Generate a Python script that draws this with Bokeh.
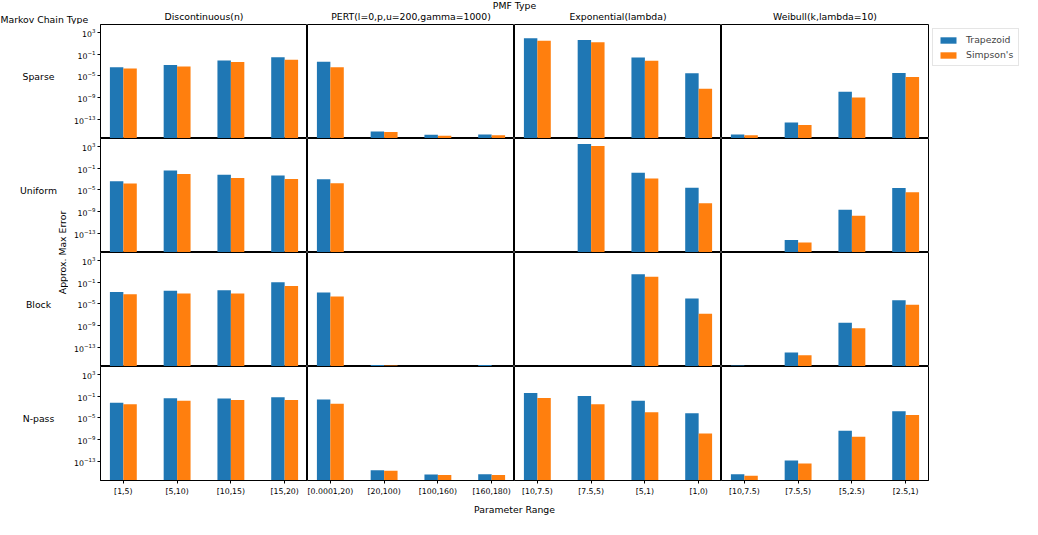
import numpy as np
from bokeh.plotting import figure
from bokeh.layouts import gridplot, column, row
from bokeh.models import Range1d, FixedTicker, Label, Legend, LegendItem, ColumnDataSource
from bokeh.transform import dodge
from bokeh.embed import file_html
from bokeh.resources import INLINE

nan = float("nan")

chain_types = ["Sparse", "Uniform", "Block", "N-pass"]
pmf_types = ["Discontinuous(n)", "PERT(l=0,p,u=200,gamma=1000)",
             "Exponential(lambda)", "Weibull(k,lambda=10)"]
range_labels = [
    ["[1,5)", "[5,10)", "[10,15)", "[15,20)"],
    ["[0.0001,20)", "[20,100)", "[100,160)", "[160,180)"],
    ["[10,7.5)", "[7.5,5)", "[5,1)", "[1,0)"],
    ["[10,7.5)", "[7.5,5)", "[5,2.5)", "[2.5,1)"],
]
methods = ["Trapezoid", "Simpson's"]
y_ticks = [1e3, 1e-1, 1e-5, 1e-9, 1e-13]

# one list per PMF type (Discontinuous, PERT, Exponential, Weibull), 4 parameter ranges each
sparse_trapezoid = [[3.9e-4, 1.0e-3, 7.1e-3, 2.8e-2],
                    [4.1e-3, 5.0e-16, 1.3e-16, 1.4e-16],
                    [95.0, 42.0, 2.5e-2, 2.9e-5],
                    [1.4e-16, 2.3e-14, 1.1e-8, 3.2e-5]]
sparse_simpson = [[2.3e-4, 5.1e-4, 3.5e-3, 9.3e-3],
                  [3.9e-4, 4.0e-16, 7.9e-17, 1.0e-16],
                  [32.0, 16.0, 6.3e-3, 3.9e-8],
                  [1.0e-16, 7.9e-15, 9.3e-10, 6.3e-6]]
uniform_trapezoid = [[3.9e-4, 3.7e-2, 6.3e-3, 4.7e-3],
                     [8.9e-4, 3.2e-17, nan, nan],
                     [nan, 3.0e3, 1.4e-2, 2.5e-5],
                     [nan, 5.0e-15, 2.1e-9, 2.2e-5]]
uniform_simpson = [[1.5e-4, 8.3e-3, 1.6e-3, 1.0e-3],
                   [1.7e-4, 2.0e-17, nan, nan],
                   [nan, 1.35e3, 1.2e-3, 3.4e-8],
                   [nan, 1.7e-15, 1.6e-10, 3.6e-6]]
block_trapezoid = [[1.5e-3, 2.7e-3, 3.1e-3, 1.0e-1],
                   [1.3e-3, 4.6e-17, 3.2e-17, 4.6e-17],
                   [nan, nan, 3.1, 1.0e-4],
                   [4.0e-17, 1.0e-14, 3.2e-9, 4.4e-5]]
block_simpson = [[5.9e-4, 7.9e-4, 7.9e-4, 2.1e-2],
                 [2.2e-4, 4.0e-17, 2.8e-17, 3.2e-17],
                 [nan, nan, 1.0, 1.5e-7],
                 [2.8e-17, 3.2e-15, 3.1e-10, 7.1e-6]]
npass_trapezoid = [[6.2e-3, 4.2e-2, 3.7e-2, 6.3e-2],
                   [2.5e-2, 1.9e-15, 3.2e-16, 3.5e-16],
                   [0.39, 0.11, 1.4e-2, 7.4e-5],
                   [3.5e-16, 1.2e-13, 3.9e-8, 1.7e-4]]
npass_simpson = [[3.1e-3, 1.4e-2, 1.9e-2, 1.9e-2],
                 [4.1e-3, 1.6e-15, 2.5e-16, 2.5e-16],
                 [4.9e-2, 3.1e-3, 1.1e-4, 1.3e-8],
                 [2.0e-16, 3.5e-14, 3.2e-9, 3.2e-5]]

trapezoid = [sparse_trapezoid, uniform_trapezoid, block_trapezoid, npass_trapezoid]
simpson = [sparse_simpson, uniform_simpson, block_simpson, npass_simpson]

BLUE, ORANGE = "#1f77b4", "#ff7f0e"
FONT = "DejaVu Sans"
FS = "9.3px"
TFS = "7.8px"

W, H = 207, 114          # panel frame size
LW, B1, R = 68, 32, 94   # left label strip, y-tick border, right legend border
HH, FH = 24, 21          # header / footer heights
Y_LO, Y_HI = 10 ** -16.6, 10 ** 4.5
TOTAL_W = LW + B1 + 4 * W + R


def style_axis(ax):
    ax.axis_line_color = "black"
    ax.major_tick_line_color = "black"
    ax.major_tick_out = 3
    ax.major_tick_in = 0
    ax.minor_tick_out = 0
    ax.minor_tick_in = 0
    ax.major_label_standoff = 2
    ax.major_label_text_font = FONT
    ax.major_label_text_font_size = TFS
    ax.major_label_text_color = "black"


grid = []
legend_renderers = None
for r, chain in enumerate(chain_types):
    figs = []
    for c, pmf in enumerate(pmf_types):
        first_col = c == 0
        last_row = r == len(chain_types) - 1
        p = figure(frame_width=W, frame_height=H,
                   x_range=Range1d(-0.425, 3.425), y_range=Range1d(Y_LO, Y_HI),
                   y_axis_type="log",
                   x_axis_location="below" if last_row else None,
                   y_axis_location="left" if first_col else None,
                   toolbar_location=None, output_backend="svg", min_border=0)
        p.min_border_left = B1 if first_col else 0
        p.min_border_right = R if c == 3 else 0
        p.min_border_top = 0
        p.min_border_bottom = 0
        p.grid.visible = False
        p.outline_line_color = "black"
        p.outline_line_width = 1
        p.outline_line_alpha = 1
        p.background_fill_color = "white"
        p.border_fill_color = "white"

        src = ColumnDataSource(dict(idx=np.arange(4),
                                    trap=np.array(trapezoid[r][c], dtype=float),
                                    simp=np.array(simpson[r][c], dtype=float)))
        rt = p.vbar(x=dodge("idx", -0.125), top="trap", bottom=1e-30, width=0.25,
                    fill_color=BLUE, line_color=None, source=src)
        rs = p.vbar(x=dodge("idx", 0.125), top="simp", bottom=1e-30, width=0.25,
                    fill_color=ORANGE, line_color=None, source=src)

        if first_col:
            ax = p.yaxis[0]
            ax.ticker = FixedTicker(ticks=y_ticks, minor_ticks=[])
            style_axis(ax)
        if last_row:
            ax = p.xaxis[0]
            ax.ticker = FixedTicker(ticks=[0, 1, 2, 3], minor_ticks=[])
            ax.major_label_overrides = {i: lab for i, lab in enumerate(range_labels[c])}
            style_axis(ax)
            ax.major_label_standoff = 3

        if r == 0 and c == 3:
            legend = Legend(items=[LegendItem(label=methods[0], renderers=[rt]),
                                   LegendItem(label=methods[1], renderers=[rs])],
                            location="top_left", margin=4, padding=5, spacing=4,
                            glyph_width=20, glyph_height=8, label_standoff=8,
                            label_text_font=FONT, label_text_font_size=FS,
                            border_line_color="#cccccc", border_line_width=1,
                            background_fill_alpha=0.8)
            p.add_layout(legend, "right")
        figs.append(p)
    grid.append(figs)

panels = gridplot(grid, toolbar_location=None)


def text_fig(w, h):
    f = figure(width=w, height=h, x_range=Range1d(0, w), y_range=Range1d(0, h),
               x_axis_location=None, y_axis_location=None, toolbar_location=None,
               output_backend="svg", min_border=0)
    f.grid.visible = False
    f.outline_line_color = None
    return f


def lab(f, x, y, text, align="center", angle=0.0):
    f.add_layout(Label(x=x, y=y, text=text, text_align=align, text_baseline="middle",
                       angle=angle, text_font=FONT, text_font_size=FS, text_color="black"))


header = text_fig(TOTAL_W, HH)
lab(header, LW + B1 + 2 * W, HH - 5, "PMF Type")
for c, pmf in enumerate(pmf_types):
    lab(header, LW + B1 + (c + 0.5) * W, 8, pmf)
lab(header, 0, 5, "Markov Chain Type", align="left")

left = text_fig(LW, 4 * H)
for r, chain in enumerate(chain_types):
    lab(left, 38, 4 * H - (r + 0.5) * H + 5, chain)
lab(left, 62, 2 * H, "Approx. Max Error", angle=np.pi / 2)

footer = text_fig(TOTAL_W, FH)
lab(footer, LW + B1 + 2 * W, FH / 2, "Parameter Range")

layout = column(header, row(left, panels), footer)

open("out.html", "w").write(file_html(layout, INLINE))
